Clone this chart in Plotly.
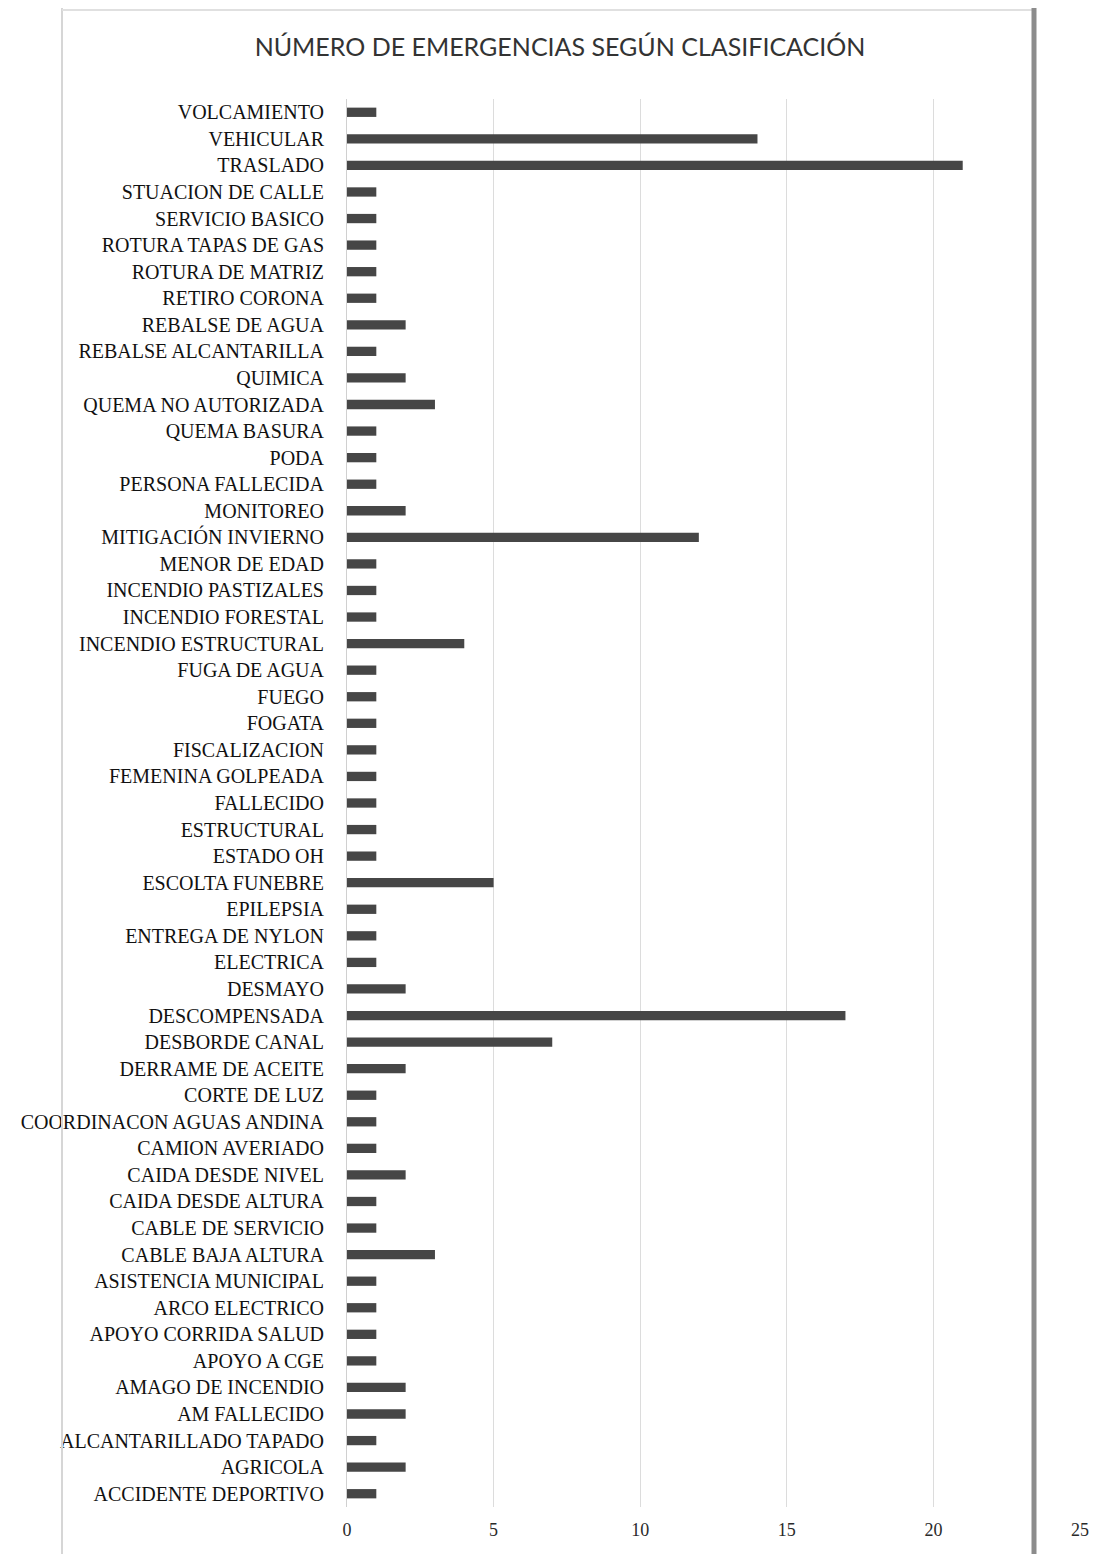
import plotly.graph_objects as go

# Categories listed bottom-to-top (Excel order)
categories = [
    "ACCIDENTE DEPORTIVO", "AGRICOLA", "ALCANTARILLADO TAPADO", "AM FALLECIDO",
    "AMAGO DE INCENDIO", "APOYO A CGE", "APOYO CORRIDA SALUD", "ARCO ELECTRICO",
    "ASISTENCIA MUNICIPAL", "CABLE BAJA ALTURA", "CABLE DE SERVICIO",
    "CAIDA DESDE ALTURA", "CAIDA DESDE NIVEL", "CAMION AVERIADO",
    "COORDINACON AGUAS ANDINA", "CORTE DE LUZ", "DERRAME DE ACEITE",
    "DESBORDE CANAL", "DESCOMPENSADA", "DESMAYO", "ELECTRICA",
    "ENTREGA DE NYLON", "EPILEPSIA", "ESCOLTA FUNEBRE", "ESTADO OH",
    "ESTRUCTURAL", "FALLECIDO", "FEMENINA GOLPEADA", "FISCALIZACION",
    "FOGATA", "FUEGO", "FUGA DE AGUA", "INCENDIO ESTRUCTURAL",
    "INCENDIO FORESTAL", "INCENDIO PASTIZALES", "MENOR DE EDAD",
    "MITIGACIÓN INVIERNO", "MONITOREO", "PERSONA FALLECIDA", "PODA",
    "QUEMA BASURA", "QUEMA NO AUTORIZADA", "QUIMICA", "REBALSE ALCANTARILLA",
    "REBALSE DE AGUA", "RETIRO CORONA", "ROTURA DE MATRIZ",
    "ROTURA TAPAS DE GAS", "SERVICIO BASICO", "STUACION DE CALLE",
    "TRASLADO", "VEHICULAR", "VOLCAMIENTO",
]

values = [
    1, 2, 1, 2,
    2, 1, 1, 1,
    1, 3, 1,
    1, 2, 1,
    1, 1, 2,
    7, 17, 2, 1,
    1, 1, 5, 1,
    1, 1, 1, 1,
    1, 1, 1, 4,
    1, 1, 1,
    12, 2, 1, 1,
    1, 3, 2, 1,
    2, 1, 1,
    1, 1, 1,
    21, 14, 1,
]

x_ticks = [0, 5, 10, 15, 20, 25]

fig = go.Figure()
fig.add_trace(go.Bar(
    x=values,
    y=categories,
    orientation="h",
    marker=dict(color="#464646", line=dict(width=0)),
    hoverinfo="x+y",
))

serif = "Liberation Serif, DejaVu Serif, serif"

W, H = 1100, 1546
L, T, PW, PH = 339, 91, 733, 1408

fig.update_layout(
    width=W,
    height=H,
    margin=dict(l=L, r=W - L - PW, t=T, b=H - T - PH),
    paper_bgcolor="white",
    plot_bgcolor="white",
    bargap=0.65,
    showlegend=False,
    title=dict(
        text="NÚMERO DE EMERGENCIAS SEGÚN CLASIFICACIÓN",
        x=(560 - 8) / W,
        xref="container",
        xanchor="center",
        y=1 - (47 - 8) / H,
        yref="container",
        yanchor="middle",
        font=dict(family="Lato, Open Sans, sans-serif", size=25, color="#333333"),
    ),
    xaxis=dict(
        range=[0, 25],
        tickmode="array",
        tickvals=x_ticks,
        ticktext=[str(v) for v in x_ticks],
        showgrid=True,
        gridcolor="#dcdcdc",
        gridwidth=1,
        zeroline=False,
        showline=False,
        tickfont=dict(family=serif, size=18, color="#2a2a2a"),
        ticklabelstandoff=10,
        fixedrange=True,
    ),
    yaxis=dict(
        type="category",
        categoryorder="array",
        categoryarray=categories,
        showgrid=False,
        zeroline=False,
        showline=True,
        linecolor="#d0d0d0",
        linewidth=1,
        tickfont=dict(family=serif, size=20, color="#111111"),
        ticklabelstandoff=18,
        fixedrange=True,
    ),
)

# chart frame (border of the chart area as seen on the page)
def px_x(p):
    return (p - 8 - L) / PW

def px_y(p):
    return (T + PH - (p - 8)) / PH

fig.add_shape(type="line", xref="paper", yref="paper",
              x0=px_x(62), x1=px_x(62), y0=px_y(0), y1=px_y(1560),
              line=dict(color="#d6d6d6", width=2))
fig.add_shape(type="line", xref="paper", yref="paper",
              x0=px_x(62), x1=px_x(1034), y0=px_y(10), y1=px_y(10),
              line=dict(color="#e0e0e0", width=2))
fig.add_shape(type="line", xref="paper", yref="paper",
              x0=px_x(1034), x1=px_x(1034), y0=px_y(0), y1=px_y(1560),
              line=dict(color="#8c8c8c", width=5))

fig.write_html("out.html")
